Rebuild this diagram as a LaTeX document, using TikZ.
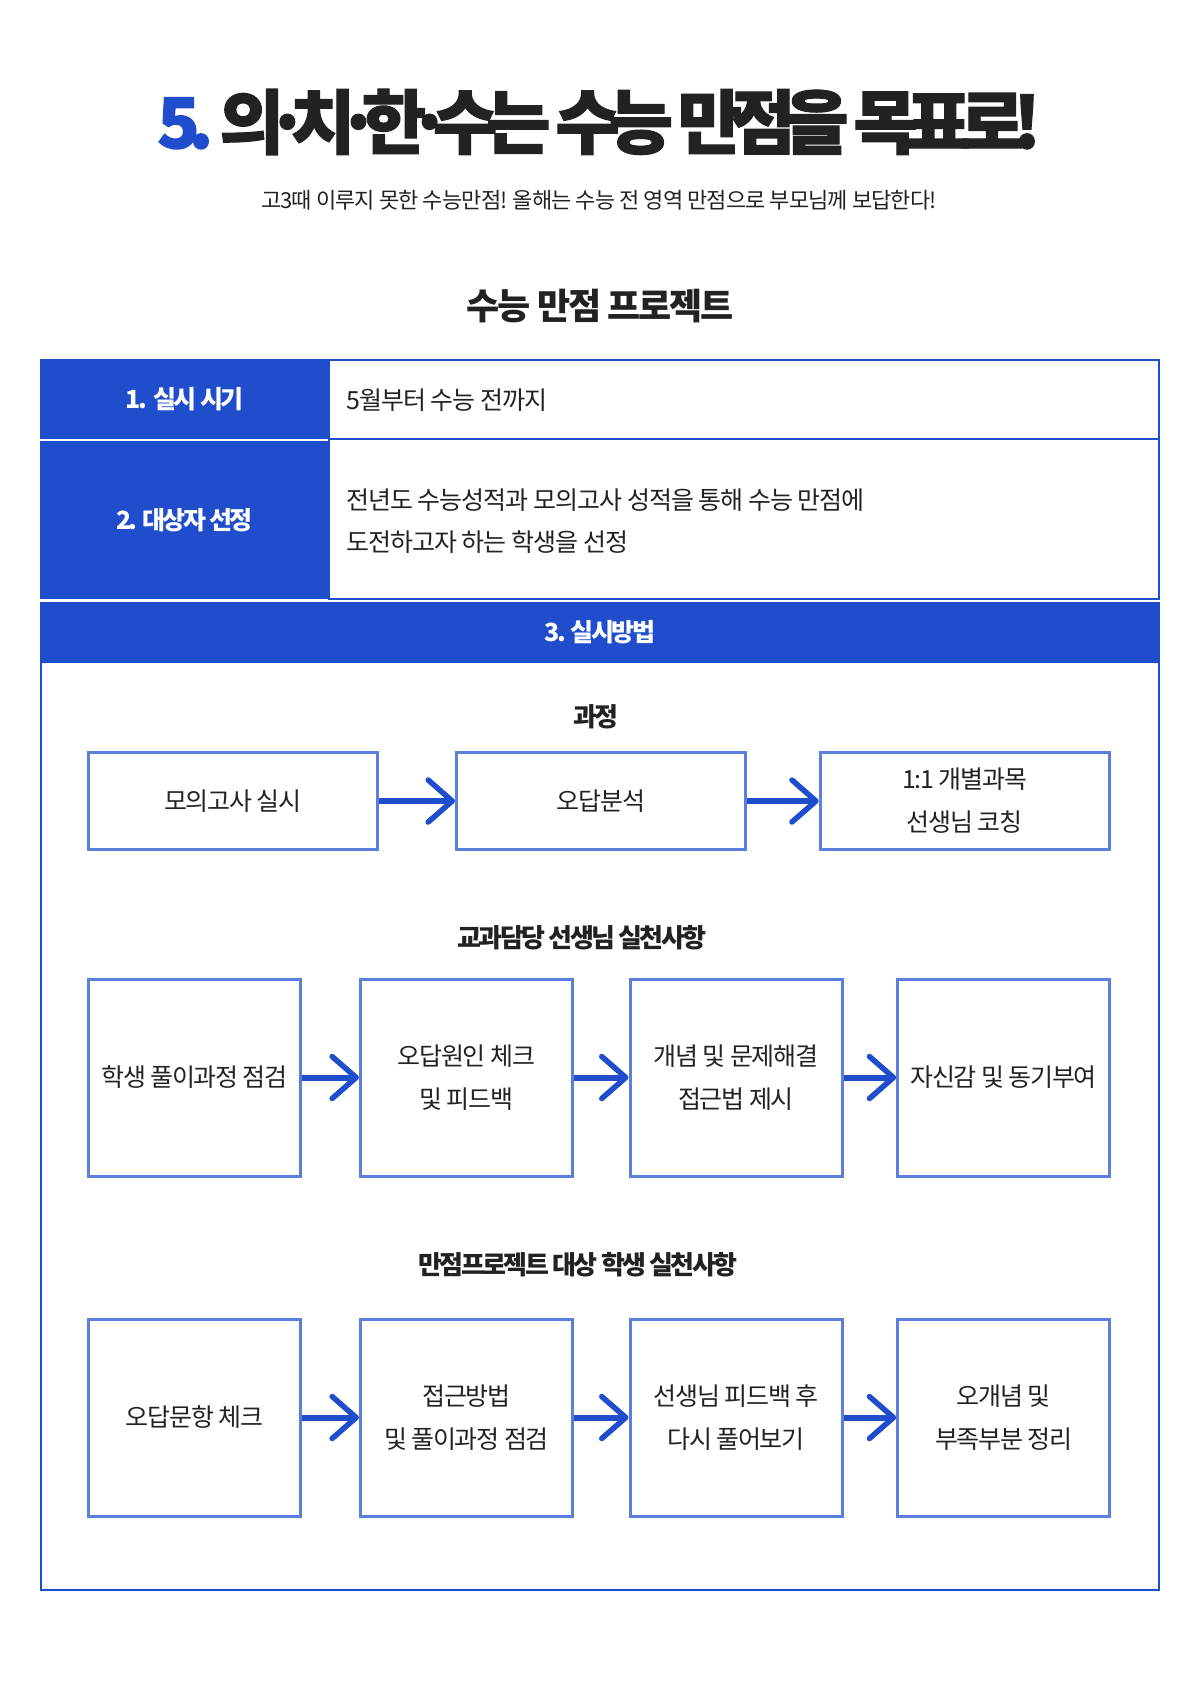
\documentclass[tikz,border=0pt]{standalone}
\usepackage{fontspec}
\usetikzlibrary{arrows.meta}
\newfontfamily\krT{Noto Sans CJK KR}[LetterSpace=-16, BoldFeatures={FakeBold=1.6}]
\newfontfamily\krH{Noto Sans CJK KR}[LetterSpace=-6]
\newfontfamily\krSub{Noto Sans CJK KR}[LetterSpace=-10]
\newfontfamily\krC{Noto Sans CJK KR}[LetterSpace=-10]
\newfontfamily\krR{Noto Sans CJK KR}[LetterSpace=-4]
\newfontfamily\krB{Noto Sans CJK KR}[LetterSpace=-5]
\newfontfamily\krS{Noto Sans CJK KR}[LetterSpace=-4]
\definecolor{mainblue}{HTML}{1F4DCC}
\definecolor{boxblue}{HTML}{5B7FDD}
\definecolor{txt}{HTML}{222222}
\newcommand{\tdot}{\kern-18pt·\kern-18pt}
\tikzset{
  cellL/.style={fill=mainblue, text=white, inner sep=0pt, minimum width=289pt,
    font=\krC\bfseries\fontsize{25}{30}\selectfont},
  cellR/.style={draw=mainblue, line width=2pt, inner sep=0pt, minimum width=830pt},
  celltext/.style={anchor=west, text=txt, inner sep=0pt, align=left,
    font=\krR\fontsize{25}{42}\selectfont},
  subhead/.style={text=txt, inner sep=0pt, font=\krSub\bfseries\fontsize{26}{30}\selectfont},
  flowbox/.style={draw=boxblue, line width=3pt, inner sep=0pt, text=txt, align=center,
    font=\krB\fontsize{25}{43}\selectfont},
  wide/.style={flowbox, minimum width=289pt, minimum height=97pt},
  tall/.style={flowbox, minimum width=212pt, minimum height=197pt},
  arr/.style={draw=mainblue, line width=6pt,
    -{Straight Barb[length=24pt,width=42pt,line width=5.5pt,round]}}
}
\begin{document}
\begin{tikzpicture}[x=1pt,y=-1pt]
\useasboundingbox[fill=white] (0,0) rectangle (1200,1705);
% title
\node[text=txt, inner sep=0pt, font=\krT\bfseries\fontsize{70}{80}\selectfont] (title) at (599,122)
  {\textcolor{mainblue}{5.} 의\tdot 치\tdot 한\tdot 수는 수능 만점을 목표로!};
\node[text=txt, inner sep=0pt, font=\krS\fontsize{22}{26}\selectfont] (sub) at (599,200)
  {고3때 이루지 못한 수능만점! 올해는 수능 전 영역 만점으로 부모님께 보답한다!};
\node[text=txt, inner sep=0pt, font=\krH\bfseries\fontsize{36}{40}\selectfont] (head) at (600,306)
  {수능 만점 프로젝트};
% table
\node[cellR, minimum height=79.5pt] (r1) at (744,399.7) {};
\node[cellR, minimum height=160pt] (r2) at (744,519.4) {};
\node[cellL, minimum height=80pt] (c1) at (184.5,399) {1.\ \ 실시 시기};
\node[cellL, minimum height=158pt] (c2) at (184.5,519.7) {2. 대상자 선정};
\node[celltext] (t1) at (346,400) {5월부터 수능 전까지};
\node[celltext] (t2) at (346,521) {전년도 수능성적과 모의고사 성적을 통해 수능 만점에\\도전하고자 하는 학생을 선정};
\node[draw=mainblue, line width=2pt, inner sep=0pt, minimum width=1118pt, minimum height=928pt] (body) at (600,1126) {};
\node[cellL, minimum width=1120pt, minimum height=60.7pt] (c3) at (600,632.3) {3. 실시방법};
% process
\node[subhead] (s1) at (596,717) {과정};
\node[wide] (p1) at (232.7,801) {모의고사 실시};
\node[wide] (p2) at (601,801) {오답분석};
\node[wide] (p3) at (964.7,801) {1:1 개별과목\\선생님 코칭};
\draw[arr] (p1.east) -- (p2.west);
\draw[arr] (p2.east) -- (p3.west);
% teachers
\node[subhead] (s2) at (582,938) {교과담당 선생님 실천사항};
\node[tall] (a1) at (194.5,1077.5) {학생 풀이과정 점검};
\node[tall] (a2) at (466.4,1077.5) {오답원인 체크\\및 피드백};
\node[tall] (a3) at (736,1077.5) {개념 및 문제해결\\접근법 제시};
\node[tall] (a4) at (1003.7,1077.5) {자신감 및 동기부여};
\draw[arr] (a1.east) -- (a2.west);
\draw[arr] (a2.east) -- (a3.west);
\draw[arr] (a3.east) -- (a4.west);
% students
\node[subhead] (s3) at (578,1265) {만점프로젝트 대상 학생 실천사항};
\node[tall] (b1) at (194.5,1417.5) {오답문항 체크};
\node[tall] (b2) at (466.4,1417.5) {접근방법\\및 풀이과정 점검};
\node[tall] (b3) at (736,1417.5) {선생님 피드백 후\\다시 풀어보기};
\node[tall] (b4) at (1003.7,1417.5) {오개념 및\\부족부분 정리};
\draw[arr] (b1.east) -- (b2.west);
\draw[arr] (b2.east) -- (b3.west);
\draw[arr] (b3.east) -- (b4.west);
\end{tikzpicture}
\end{document}
